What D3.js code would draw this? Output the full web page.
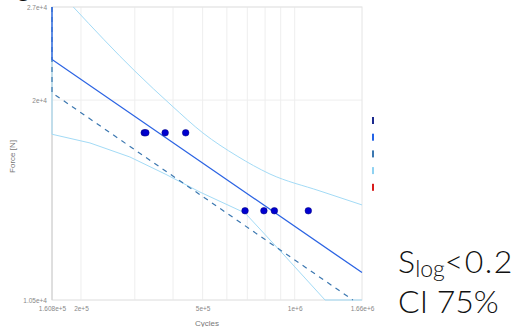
<!DOCTYPE html>
<html>
<head>
<meta charset="utf-8">
<script src="https://cdn.jsdelivr.net/npm/d3@7"></script>
<style>
  body { margin: 0; background: #fff; }
  svg { display: block; }
</style>
</head>
<body>
<svg id="chart"></svg>
<script>
// test results
var testCycles = [3.22e5, 3.26e5, 3.77e5, 4.40e5, 6.88e5, 7.93e5, 8.58e5, 1.108e6]
var testForce = [18000, 18000, 18000, 18000, 14000, 14000, 14000, 14000]

// fitted curve (mean) and shifted design curve
var meanCycles = [1.0e5, 1.608e5, 1.66e6]
var meanForce = [30000, 22800, 11470]
var designCycles = [1.0e5, 1.608e5, 1.55e6]
var designForce = [30000, 20480, 10500]

// confidence band
var upperCycles = [1.888e5, 3.0e5, 3.97e5, 5.01e5, 6.48e5, 8.3e5, 1.21e6, 1.66e6]
var upperForce = [27000, 21965, 19630, 17990, 16700, 15760, 14920, 14265]
var lowerCycles = [1.0e5, 1.608e5, 2.14e5, 2.89e5, 3.77e5, 4.9e5, 6.88e5, 9.29e5, 1.2565e6, 1.66e6]
var lowerForce = [30000, 17915, 17420, 16650, 15760, 14870, 13900, 12100, 10500, 10000]

var xTicks = [1.608e5, 2e5, 5e5, 1e6, 1.66e6]
var xTickLabels = ["1.608e+5", "2e+5", "5e+5", "1e+6", "1.66e+6"]
var xGrid = [2e5, 3e5, 4e5, 5e5, 6e5, 7e5, 8e5, 9e5, 1e6]
var yTicks = [1.05e4, 2e4, 2.7e4]
var yTickLabels = ["1.05e+4", "2e+4", "2.7e+4"]

var legendColors = ["#1c2a8e", "#2463e6", "#3b77b0", "#8fd2f2", "#d81b1b"]

var dimensions = {
    width: 516,
    height: 327,
    margin: { top: 7, right: 154, bottom: 27, left: 52 }
}

var svg = d3.select("#chart")
    .attr("width", dimensions.width)
    .attr("height", dimensions.height)

var x0 = dimensions.margin.left
var x1 = dimensions.width - dimensions.margin.right
var y0 = dimensions.margin.top
var y1 = dimensions.height - dimensions.margin.bottom

var xScale = d3.scaleLog().domain([1.608e5, 1.66e6]).range([x0, x1]).clamp(true)
var yScale = d3.scaleLog().domain([1.05e4, 2.7e4]).range([y1, y0]).clamp(true)

// grid
svg.append("g").selectAll("line").data(xGrid).enter().append("line")
    .attr("x1", d => xScale(d)).attr("x2", d => xScale(d))
    .attr("y1", y0).attr("y2", y1)
    .attr("stroke", "#eeeeee").attr("stroke-width", 1)
svg.append("g").selectAll("line").data(yTicks).enter().append("line")
    .attr("x1", x0).attr("x2", x1)
    .attr("y1", d => yScale(d)).attr("y2", d => yScale(d))
    .attr("stroke", "#eeeeee").attr("stroke-width", 1)

svg.append("rect")
    .attr("x", x0).attr("y", y0)
    .attr("width", x1 - x0).attr("height", y1 - y0)
    .attr("fill", "none").attr("stroke", "#e4e4e4")
svg.append("line")
    .attr("x1", x0).attr("x2", x0).attr("y1", y0).attr("y2", y1)
    .attr("stroke", "#cccccc")

// axes
var xAxisGen = d3.axisBottom(xScale).tickValues(xTicks)
    .tickFormat((d, i) => xTickLabels[i]).tickSize(0).tickPadding(6)
var xAxis = svg.append("g")
    .attr("transform", `translate(0,${y1})`)
    .call(xAxisGen)
xAxis.select(".domain").remove()
xAxis.selectAll("text")
    .attr("fill", "#888").style("font-family", "Liberation Sans, Arial, sans-serif").style("font-size", "6.5px")

var yAxisGen = d3.axisLeft(yScale).tickValues(yTicks)
    .tickFormat((d, i) => yTickLabels[i]).tickSize(0).tickPadding(5)
var yAxis = svg.append("g")
    .attr("transform", `translate(${x0},0)`)
    .call(yAxisGen)
yAxis.select(".domain").remove()
yAxis.selectAll("text")
    .attr("fill", "#888").style("font-family", "Liberation Sans, Arial, sans-serif").style("font-size", "6.5px")

svg.append("text")
    .attr("x", (x0 + x1) / 2).attr("y", 326)
    .attr("text-anchor", "middle")
    .attr("fill", "#777")
    .style("font-family", "Liberation Sans, Arial, sans-serif").style("font-size", "8px")
    .text("Cycles")
svg.append("text")
    .attr("transform", `translate(15,${(y0 + y1) / 2 + 3}) rotate(-90)`)
    .attr("text-anchor", "middle")
    .attr("fill", "#777")
    .style("font-family", "Liberation Sans, Arial, sans-serif").style("font-size", "8px")
    .text("Force [N]")

// lines
var lineGen = d3.line().x(d => xScale(d[0])).y(d => yScale(d[1]))
var smoothGen = d3.line().x(d => xScale(d[0])).y(d => yScale(d[1])).curve(d3.curveMonotoneX)

svg.append("path")
    .datum(d3.zip(lowerCycles, lowerForce))
    .attr("d", lineGen)
    .attr("fill", "none").attr("stroke", "#a3dbf6").attr("stroke-width", 1)
svg.append("path")
    .datum(d3.zip(upperCycles, upperForce))
    .attr("d", smoothGen)
    .attr("fill", "none").attr("stroke", "#a3dbf6").attr("stroke-width", 1)
svg.append("path")
    .datum(d3.zip(designCycles, designForce))
    .attr("d", lineGen)
    .attr("fill", "none").attr("stroke", "#3b77b0").attr("stroke-width", 1.2)
    .attr("stroke-dasharray", "5,5")
svg.append("path")
    .datum(d3.zip(meanCycles, meanForce))
    .attr("d", lineGen)
    .attr("fill", "none").attr("stroke", "#2c64e3").attr("stroke-width", 1.3)

// points
svg.append("g").selectAll("circle")
    .data(d3.zip(testCycles, testForce))
    .enter().append("circle")
    .attr("cx", d => xScale(d[0]))
    .attr("cy", d => yScale(d[1]))
    .attr("r", 3.3)
    .attr("fill", "#0000d0")
    .attr("stroke", "#00007a").attr("stroke-width", 0.5)

// legend markers (labels cut off in the original)
svg.append("g").selectAll("rect")
    .data(legendColors).enter().append("rect")
    .attr("x", 372).attr("y", (d, i) => 117 + i * 16.7)
    .attr("width", 2).attr("height", 7)
    .attr("fill", d => d)

// annotation
var note = svg.append("g")
    .style("font-family", "Lato, sans-serif").style("font-weight", 300)
    .attr("fill", "#111")
var t1 = note.append("text").attr("x", 398).attr("y", 273).style("font-size", "32px")
t1.append("tspan").text("S")
t1.append("tspan").attr("dy", 4).style("font-size", "23px").text("log")
t1.append("tspan").attr("dy", -4).style("letter-spacing", "1.5px").text("<0.2")
note.append("text").attr("x", 398).attr("y", 313).style("font-size", "32px").text("CI 75%")

// bit of slide title above
svg.append("text").attr("x", 17).attr("y", -4)
    .style("font-family", "Lato, sans-serif").style("font-size", "26px")
    .attr("fill", "#111").text("g")
</script>
</body>
</html>
